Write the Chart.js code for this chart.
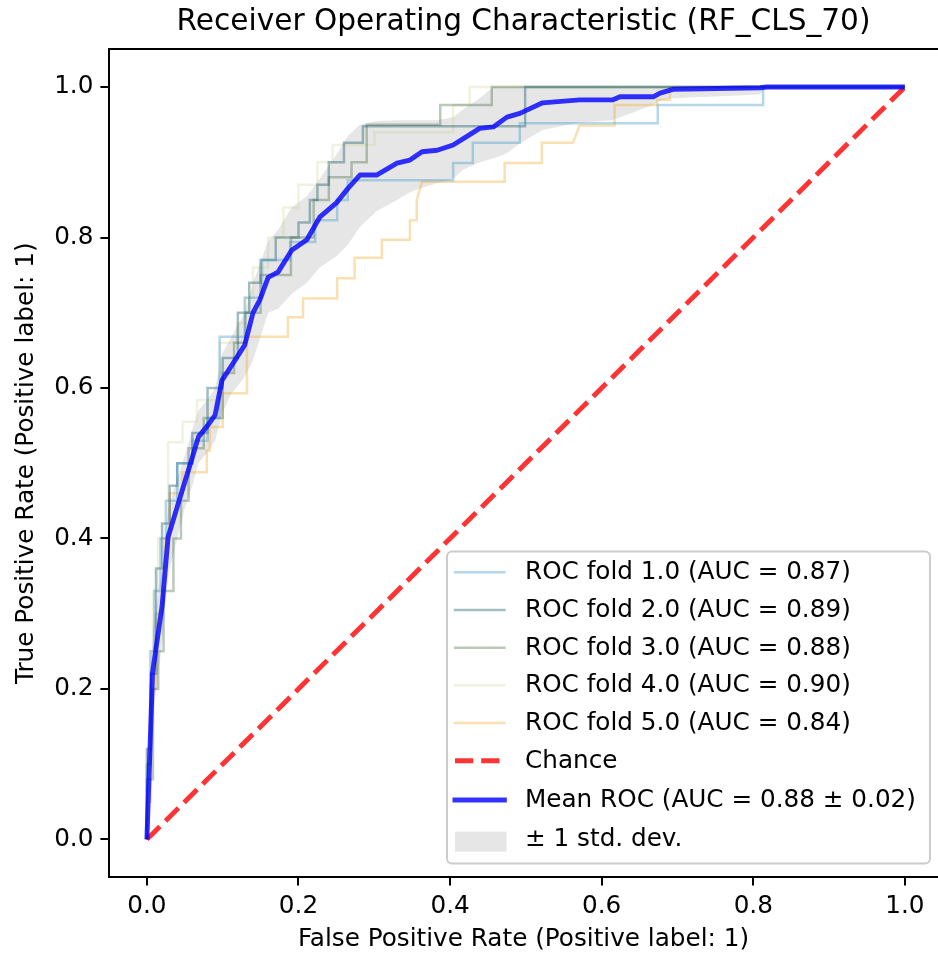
<!DOCTYPE html>
<html>
<head>
<meta charset="utf-8">
<script src="https://cdn.jsdelivr.net/npm/chart.js@4.4.0/dist/chart.umd.min.js"></script>
<style>
body { margin: 0; background: #fff; }
canvas { display: block; }
</style>
</head>
<body>
<canvas id="myChart" width="938" height="956"></canvas>
<script>
// ticks
var xTicks = [0, 0.2, 0.4, 0.6, 0.8, 1.0];
var yTicks = [0, 0.2, 0.4, 0.6, 0.8, 1.0];

// fold curves (corners of the step curves)
var foldAuc = ['0.87', '0.89', '0.88', '0.90', '0.84'];

var fold1Fpr = [0, 0, 0.005, 0.005, 0.01, 0.01, 0.018, 0.018, 0.025, 0.025, 0.04, 0.04, 0.06, 0.06, 0.08, 0.08, 0.096, 0.096, 0.129, 0.129, 0.152, 0.152, 0.189, 0.189, 0.222, 0.222, 0.251, 0.251, 0.265, 0.265, 0.404, 0.404, 0.43, 0.43, 0.492, 0.492, 0.674, 0.674, 0.813, 0.813, 1];
var fold1Tpr = [0, 0.1, 0.1, 0.25, 0.25, 0.33, 0.33, 0.4, 0.4, 0.45, 0.45, 0.5, 0.5, 0.53, 0.53, 0.56, 0.56, 0.668, 0.668, 0.72, 0.72, 0.77, 0.77, 0.794, 0.794, 0.823, 0.823, 0.85, 0.85, 0.876, 0.876, 0.899, 0.899, 0.926, 0.926, 0.952, 0.952, 0.976, 0.976, 1, 1];

var fold2Fpr = [0, 0, 0.005, 0.005, 0.012, 0.012, 0.02, 0.02, 0.03, 0.03, 0.04, 0.04, 0.06, 0.06, 0.08, 0.08, 0.1, 0.1, 0.12, 0.12, 0.135, 0.135, 0.15, 0.15, 0.17, 0.17, 0.2, 0.2, 0.215, 0.215, 0.225, 0.225, 0.24, 0.24, 0.26, 0.26, 0.285, 0.285, 0.499, 0.499, 1];
var fold2Tpr = [0, 0.12, 0.12, 0.22, 0.22, 0.36, 0.36, 0.42, 0.42, 0.47, 0.47, 0.5, 0.5, 0.54, 0.54, 0.6, 0.6, 0.64, 0.64, 0.7, 0.7, 0.74, 0.74, 0.77, 0.77, 0.8, 0.8, 0.82, 0.82, 0.85, 0.85, 0.87, 0.87, 0.9, 0.9, 0.926, 0.926, 0.948, 0.948, 1, 1];

var fold3Fpr = [0, 0, 0.008, 0.008, 0.015, 0.015, 0.022, 0.022, 0.035, 0.035, 0.045, 0.045, 0.055, 0.055, 0.075, 0.075, 0.1, 0.1, 0.115, 0.115, 0.13, 0.13, 0.15, 0.15, 0.19, 0.19, 0.22, 0.22, 0.24, 0.24, 0.27, 0.27, 0.29, 0.29, 0.387, 0.387, 0.455, 0.455, 1];
var fold3Tpr = [0, 0.08, 0.08, 0.2, 0.2, 0.25, 0.25, 0.33, 0.33, 0.4, 0.4, 0.45, 0.45, 0.52, 0.52, 0.56, 0.56, 0.62, 0.62, 0.66, 0.66, 0.7, 0.7, 0.75, 0.75, 0.8, 0.8, 0.85, 0.85, 0.88, 0.88, 0.9, 0.9, 0.95, 0.95, 0.976, 0.976, 1, 1];

var fold4Fpr = [0, 0, 0.004, 0.004, 0.008, 0.008, 0.015, 0.015, 0.028, 0.028, 0.047, 0.047, 0.066, 0.066, 0.096, 0.096, 0.119, 0.119, 0.13, 0.13, 0.14, 0.14, 0.16, 0.16, 0.18, 0.18, 0.2, 0.2, 0.225, 0.225, 0.245, 0.245, 0.3, 0.3, 0.404, 0.404, 0.426, 0.426, 1];
var fold4Tpr = [0, 0.1, 0.1, 0.25, 0.25, 0.33, 0.33, 0.4, 0.4, 0.528, 0.528, 0.555, 0.555, 0.584, 0.584, 0.66, 0.66, 0.686, 0.686, 0.72, 0.72, 0.76, 0.76, 0.8, 0.8, 0.84, 0.84, 0.87, 0.87, 0.9, 0.9, 0.923, 0.923, 0.94, 0.94, 0.976, 0.976, 1, 1];

var fold5Fpr = [0, 0, 0.005, 0.005, 0.012, 0.012, 0.02, 0.024, 0.03, 0.03, 0.047, 0.047, 0.079, 0.079, 0.083, 0.083, 0.1, 0.1, 0.132, 0.132, 0.186, 0.186, 0.206, 0.206, 0.251, 0.251, 0.274, 0.274, 0.31, 0.31, 0.347, 0.347, 0.356, 0.356, 0.363, 0.472, 0.472, 0.521, 0.521, 0.562, 0.571, 0.617, 0.617, 0.673, 0.673, 0.69, 0.69, 1];
var fold5Tpr = [0, 0.05, 0.05, 0.2, 0.2, 0.3, 0.3, 0.4, 0.4, 0.46, 0.46, 0.488, 0.488, 0.517, 0.517, 0.548, 0.548, 0.593, 0.593, 0.668, 0.668, 0.694, 0.694, 0.719, 0.719, 0.746, 0.746, 0.773, 0.773, 0.797, 0.797, 0.823, 0.823, 0.85, 0.874, 0.874, 0.899, 0.899, 0.926, 0.926, 0.949, 0.949, 0.976, 0.976, 0.983, 0.983, 1, 1];

// chance line
var chanceFpr = [0, 1];
var chanceTpr = [0, 1];

// mean curve and std band
var meanFpr = [0, 0.0075, 0.02, 0.028, 0.04, 0.05, 0.06, 0.068, 0.08, 0.09, 0.099, 0.11, 0.129, 0.14, 0.149, 0.16, 0.173, 0.191, 0.211, 0.228, 0.25, 0.265, 0.281, 0.303, 0.33, 0.347, 0.363, 0.383, 0.404, 0.417, 0.439, 0.457, 0.475, 0.492, 0.522, 0.571, 0.615, 0.624, 0.668, 0.677, 0.694, 0.809, 0.818, 1.0];
var meanTpr = [0, 0.222, 0.31, 0.402, 0.442, 0.475, 0.508, 0.535, 0.55, 0.564, 0.61, 0.627, 0.657, 0.70, 0.717, 0.747, 0.754, 0.783, 0.797, 0.827, 0.846, 0.865, 0.883, 0.883, 0.899, 0.903, 0.914, 0.916, 0.923, 0.931, 0.945, 0.947, 0.96, 0.965, 0.979, 0.983, 0.983, 0.987, 0.987, 0.992, 0.997, 0.999, 1.0, 1.0];
var upperTpr = [0, 0.28, 0.36, 0.44, 0.48, 0.51, 0.545, 0.57, 0.585, 0.60, 0.645, 0.665, 0.70, 0.74, 0.765, 0.795, 0.81, 0.84, 0.855, 0.878, 0.91, 0.935, 0.95, 0.955, 0.956, 0.956, 0.956, 0.956, 0.96, 0.97, 0.985, 1, 1, 1, 1, 1, 1, 1, 1, 1, 1, 1, 1, 1];
var lowerTpr = [0, 0.16, 0.26, 0.35, 0.40, 0.44, 0.47, 0.50, 0.515, 0.53, 0.565, 0.59, 0.615, 0.637, 0.665, 0.70, 0.705, 0.725, 0.74, 0.76, 0.775, 0.79, 0.814, 0.835, 0.85, 0.86, 0.866, 0.872, 0.878, 0.89, 0.90, 0.905, 0.912, 0.925, 0.943, 0.953, 0.956, 0.96, 0.976, 0.982, 0.985, 0.99, 1.0, 1.0];

var toPoints = function(xs, ys){
	return xs.map(function(x, i){ return {x: x, y: ys[i]}; });
}

var foldColors = ['rgba(60,150,200,0.38)', 'rgba(20,90,100,0.4)', 'rgba(60,100,60,0.35)', 'rgba(200,200,130,0.25)', 'rgba(240,170,50,0.38)'];
var foldData = [[fold1Fpr, fold1Tpr], [fold2Fpr, fold2Tpr], [fold3Fpr, fold3Tpr], [fold4Fpr, fold4Tpr], [fold5Fpr, fold5Tpr]];

var datasets = [];
foldData.forEach(function(f, i){
	datasets.push({
		label: 'ROC fold ' + (i + 1) + '.0 (AUC = ' + foldAuc[i] + ')',
		data: toPoints(f[0], f[1]),
		borderColor: foldColors[i],
		borderWidth: 2.5,
		pointRadius: 0,
		fill: false,
		order: 2 + i,
		legendKind: 'line'
	});
});
datasets.push({
	label: 'Chance',
	data: toPoints(chanceFpr, chanceTpr),
	borderColor: 'rgba(255,0,0,0.8)',
	borderWidth: 4.9,
	borderDash: [18.3, 7.9],
	pointRadius: 0,
	fill: false,
	order: 1,
	legendKind: 'line'
});
datasets.push({
	label: 'Mean ROC (AUC = 0.88 \u00b1 0.02)',
	data: toPoints(meanFpr, meanTpr),
	borderColor: 'rgba(0,0,255,0.8)',
	borderWidth: 4.9,
	borderJoinStyle: 'round',
	pointRadius: 0,
	fill: false,
	order: 0,
	legendKind: 'line'
});
datasets.push({
	label: '',
	data: toPoints(meanFpr, upperTpr),
	borderColor: 'rgba(0,0,0,0)',
	borderWidth: 1,
	pointRadius: 0,
	fill: false,
	order: 10
});
datasets.push({
	label: '\u00b1 1 std. dev.',
	data: toPoints(meanFpr, lowerTpr),
	borderColor: 'rgba(0,0,0,0)',
	borderWidth: 1,
	backgroundColor: 'rgba(128,128,128,0.2)',
	pointRadius: 0,
	fill: '-1',
	order: 11,
	legendKind: 'patch'
});

// legend drawn like matplotlib's boxed legend, lower right
var legendBox = {
	id: 'legendBox',
	afterDraw: function(chart){
		var ctx = chart.ctx;
		var x = 447, y = 551.5, w = 483, h = 312, r = 5;
		ctx.save();
		ctx.beginPath();
		ctx.moveTo(x + r, y);
		ctx.lineTo(x + w - r, y);
		ctx.arcTo(x + w, y, x + w, y + r, r);
		ctx.lineTo(x + w, y + h - r);
		ctx.arcTo(x + w, y + h, x + w - r, y + h, r);
		ctx.lineTo(x + r, y + h);
		ctx.arcTo(x, y + h, x, y + h - r, r);
		ctx.lineTo(x, y + r);
		ctx.arcTo(x, y, x + r, y, r);
		ctx.closePath();
		ctx.fillStyle = 'rgba(255,255,255,0.8)';
		ctx.fill();
		ctx.lineWidth = 2;
		ctx.strokeStyle = '#cccccc';
		ctx.stroke();

		var rows = [572.3, 610, 647.7, 685.3, 723, 760.7, 800, 841.7];
		var items = chart.data.datasets.filter(function(d){ return d.legendKind; });
		// legend order: folds, chance, mean, band
		ctx.font = '24.7px "DejaVu Sans"';
		ctx.textBaseline = 'middle';
		ctx.textAlign = 'left';
		items.forEach(function(d, i){
			var ry = rows[i];
			if (d.legendKind === 'patch') {
				ctx.fillStyle = d.backgroundColor;
				ctx.fillRect(455, ry - 10, 51.5, 20);
			} else {
				ctx.beginPath();
				ctx.strokeStyle = d.borderColor;
				ctx.lineWidth = d.borderWidth;
				if (d.borderDash) {
					ctx.setLineDash(d.borderDash);
					ctx.lineCap = 'butt';
				} else {
					ctx.setLineDash([]);
					ctx.lineCap = 'square';
				}
				ctx.moveTo(455, ry);
				ctx.lineTo(504.4, ry);
				ctx.stroke();
				ctx.setLineDash([]);
			}
			ctx.fillStyle = '#000';
			ctx.fillText(d.label, 525, d.legendKind === 'patch' ? ry - 2.5 : ry + 0.5);
		});
		ctx.restore();
	}
}

Chart.defaults.font.family = '"DejaVu Sans"';
Chart.defaults.color = '#000';

var tickFmt = function(v){ return Number(v).toFixed(1); };

var ctx = document.getElementById('myChart').getContext('2d');
var chart = new Chart(ctx, {
	type: 'line',
	data: { datasets: datasets },
	options: {
		responsive: false,
		animation: false,
		events: [],
		layout: { padding: 0 },
		plugins: {
			legend: { display: false },
			tooltip: { enabled: false },
			filler: { drawTime: 'beforeDatasetsDraw' },
			title: {
				display: true,
				text: 'Receiver Operating Characteristic (RF_CLS_70)',
				fullSize: false,
				color: '#000',
				font: { size: 29.6, weight: 'normal' },
				padding: { top: 4.2, bottom: 9.7 }
			}
		},
		scales: {
			x: {
				type: 'linear',
				min: -0.05,
				max: 1.0437,
				afterBuildTicks: function(s){ s.ticks = xTicks.map(function(v){ return {value: v}; }); },
				afterFit: function(s){ s.height = 79; },
				grid: { drawOnChartArea: false, drawTicks: true, tickLength: 8.6, tickWidth: 2, tickColor: '#000', color: '#000', lineWidth: 2 },
				border: { display: true, color: '#000', width: 2 },
				ticks: { padding: 6, autoSkip: false, maxRotation: 0, color: '#000', font: { size: 24.7 }, callback: tickFmt },
				title: { display: true, text: 'False Positive Rate (Positive label: 1)', color: '#000', font: { size: 24.7 }, padding: { top: 0, bottom: 1.2 } }
			},
			xTop: {
				type: 'linear',
				position: 'top',
				min: -0.05,
				max: 1.0437,
				grid: { display: false },
				ticks: { display: false },
				border: { display: true, color: '#000', width: 2 },
				afterFit: function(s){ s.height = 0; }
			},
			y: {
				type: 'linear',
				min: -0.05,
				max: 1.05,
				afterBuildTicks: function(s){ s.ticks = yTicks.map(function(v){ return {value: v}; }); },
				afterFit: function(s){ s.width = 109; },
				grid: { drawOnChartArea: false, drawTicks: true, tickLength: 8.6, tickWidth: 2, tickColor: '#000', color: '#000', lineWidth: 2 },
				border: { display: true, color: '#000', width: 2 },
				ticks: { padding: 7, autoSkip: false, color: '#000', font: { size: 24.7 }, callback: tickFmt },
				title: { display: true, text: 'True Positive Rate (Positive label: 1)', color: '#000', font: { size: 24.7 }, padding: { top: 12.2, bottom: 0 } }
			}
		}
	},
	plugins: [legendBox]
});
</script>
</body>
</html>
